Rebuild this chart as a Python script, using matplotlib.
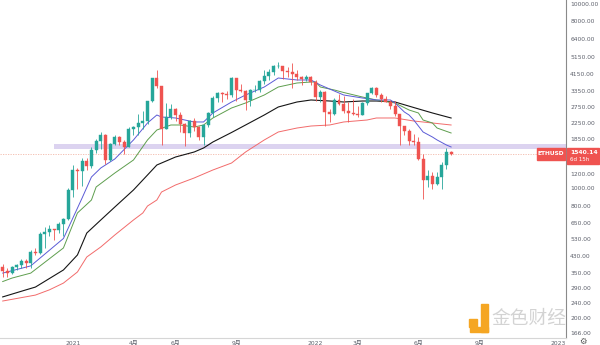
import numpy as np
import pandas as pd
import matplotlib
matplotlib.use("Agg")
import matplotlib.pyplot as plt
from matplotlib.patches import Rectangle

plt.rcParams['font.family'] = ['DejaVu Sans', 'Noto Sans CJK SC']

# ---------------- data (weekly ETHUSD) ----------------
start_week = "2020-09-21"
opens = [379, 360, 352, 379, 388, 408, 400, 456, 451, 571, 585, 608, 600, 647, 688, 988, 1267, 1251, 1416, 1331,
         1625, 1817, 1958, 1435, 1750, 1900, 1790, 1680, 2100, 2170, 2260, 2330, 2980, 3960, 3600, 2120, 2450, 2690,
         2520, 2240, 2000, 2330, 2150, 1900, 2220, 2560, 3100, 3300, 3260, 3230, 3960, 3430, 3370, 3040, 3420, 3450,
         3850, 4080, 4290, 4600, 4640, 4320, 4290, 4200, 4020, 3920, 4050, 3800, 3150, 3330, 2600, 2550, 3030, 2880,
         2630, 2580, 2550, 2520, 2900, 3290, 3520, 3240, 3060, 2970, 2820, 2540, 2180, 2050, 1810, 1790, 1450, 1120,
         1180, 1060, 1160, 1350, 1590]
highs = [392, 375, 382, 395, 420, 418, 470, 478, 582, 620, 635, 610, 665, 700, 1010, 1350, 1300, 1470, 1470, 1690,
         1870, 2040, 1990, 1780, 1960, 1940, 1830, 2150, 2200, 2550, 2650, 3000, 3980, 4380, 3600, 2900, 2890, 2740,
         2600, 2270, 2360, 2410, 2180, 2250, 2620, 3180, 3330, 3340, 3380, 4030, 3980, 3680, 3450, 3470, 3660, 3900,
         4380, 4460, 4660, 4870, 4650, 4550, 4780, 4400, 4100, 4150, 4100, 3880, 3420, 3400, 2720, 3100, 3280, 3200,
         2950, 3050, 2800, 2950, 3300, 3580, 3550, 3300, 3200, 3030, 3000, 2550, 2200, 2100, 1990, 1920, 1550, 1270,
         1240, 1230, 1400, 1670, 1600]
lows = [335, 335, 345, 365, 375, 372, 372, 438, 445, 480, 560, 530, 575, 560, 680, 900, 1000, 1040, 1270, 1300,
        1560, 1640, 1360, 1420, 1720, 1730, 1550, 1680, 1950, 1950, 2100, 2250, 2950, 3500, 1730, 2100, 2400, 2320,
        2040, 1700, 1900, 2050, 1850, 1720, 2170, 2450, 2960, 2950, 3050, 3150, 3000, 3350, 2680, 2800, 3340, 3350,
        3700, 3900, 4150, 4500, 3950, 4050, 3500, 3900, 3650, 3850, 3630, 3000, 2950, 2200, 2300, 2500, 2850, 2570,
        2300, 2500, 2450, 2500, 2850, 3280, 3150, 2950, 2950, 2700, 2480, 1720, 1950, 1720, 1730, 1440, 880, 1030,
        1000, 1050, 1000, 1290, 1525]
closes = [360, 352, 379, 388, 408, 400, 456, 451, 571, 585, 608, 600, 647, 688, 988, 1267, 1251, 1416, 1331, 1625,
          1817, 1958, 1435, 1750, 1900, 1790, 1680, 2100, 2170, 2260, 2330, 2980, 3960, 3600, 2120, 2450, 2690, 2520,
          2240, 2000, 2330, 2150, 1900, 2220, 2560, 3100, 3300, 3260, 3230, 3960, 3430, 3370, 3040, 3420, 3450, 3850,
          4080, 4290, 4600, 4640, 4320, 4290, 4200, 4020, 3920, 4050, 3800, 3150, 3330, 2600, 2550, 3030, 2880, 2630,
          2580, 2550, 2520, 2900, 3290, 3520, 3240, 3060, 2970, 2820, 2540, 2180, 2050, 1810, 1790, 1450, 1120, 1180,
          1060, 1160, 1350, 1590, 1540.14]

# moving averages (week index, value)
ma_blue_w = [0, 6, 13, 17, 19, 21, 24, 28, 31, 33, 34, 37, 39, 41, 43, 45, 49, 52, 56, 59, 63, 66, 68, 70, 73, 77,
             80, 83, 84, 86, 87, 88, 90, 92, 93, 95, 96]
ma_blue_v = [351, 384, 540, 894, 1161, 1299, 1453, 1841, 2274, 2512, 2450, 2420, 2360, 2303, 2303, 2576, 2953, 3222,
             3559, 3981, 3884, 3884, 3649, 3471, 3222, 3104, 3028, 3028, 2917, 2607, 2512, 2360, 2033, 1910, 1841,
             1729, 1687]
ma_green_w = [0, 2, 6, 13, 16, 19, 20, 24, 28, 31, 33, 36, 38, 41, 43, 45, 49, 52, 56, 59, 63, 66, 67, 68, 71, 73,
              77, 80, 84, 87, 89, 90, 92, 93, 96]
ma_green_v = [316, 330, 351, 480, 742, 872, 1025, 1220, 1435, 1841, 2084, 2218, 2218, 2163, 2218, 2420, 2741, 2917,
              3222, 3559, 3741, 3788, 3788, 3559, 3429, 3324, 3143, 3028, 2917, 2673, 2576, 2360, 2274, 2136, 2008]
ma_black_w = [0, 5, 7, 13, 16, 18, 21, 24, 28, 31, 33, 37, 41, 43, 45, 49, 52, 56, 59, 63, 66, 70, 73, 77, 80, 84,
              88, 92, 96]
ma_black_v = [261, 285, 295, 365, 440, 578, 680, 799, 988, 1190, 1348, 1489, 1585, 1666, 1795, 2021, 2218, 2512,
              2775, 2953, 3028, 2990, 2953, 2990, 2990, 2953, 2757, 2576, 2420]
ma_red_w = [0, 7, 10, 13, 16, 18, 21, 24, 28, 30, 31, 33, 34, 37, 41, 45, 49, 52, 56, 59, 63, 66, 70, 73, 78, 80,
            84, 88, 92, 96]
ma_red_v = [248, 267, 285, 310, 356, 429, 486, 564, 680, 742, 809, 872, 963, 1051, 1147, 1267, 1382, 1585, 1841,
            2033, 2136, 2190, 2218, 2303, 2360, 2420, 2420, 2331, 2274, 2218]

zone_start_week = 11
zone_low, zone_high = 1640, 1740
last_price = 1540.14
countdown = "6d 15h"
symbol = "ETHUSD"

price_ticks = [10000, 8000, 6400, 5150, 4150, 3350, 2750, 2250, 1850, 1200, 1000, 800, 650, 530, 430, 350, 290,
               240, 200, 166]
time_labels = ["2021", "4月", "6月", "9月", "2022", "3月", "6月", "9月", "2023"]
time_label_dates = ["2021-01-04", "2021-04-05", "2021-06-07", "2021-09-06", "2022-01-03", "2022-03-07",
                    "2022-06-06", "2022-09-05", "2023-01-02"]

# ---------------- figure ----------------
W, H = 600, 345
fig = plt.figure(figsize=(W / 100, H / 100), dpi=100)
fig.patch.set_facecolor('white')
ax = fig.add_axes([0, 1 - 338 / H, 566 / W, 338 / H])
ax.set_yscale('log')
ax.set_xlim(-0.58, 120.6)
ax.set_ylim(156.5, 10511)
ax.set_facecolor('white')
for s in ['top', 'left']:
    ax.spines[s].set_visible(False)
ax.spines['bottom'].set_color('#d6d6d6')
ax.spines['bottom'].set_linewidth(0.8)
ax.spines['right'].set_color('#8a8a8a')
ax.spines['right'].set_linewidth(0.8)
ax.set_xticks([])
ax.set_yticks([])
ax.minorticks_off()
ax.yaxis.set_minor_locator(matplotlib.ticker.NullLocator())

idx = np.arange(len(closes))
o = np.array(opens, float)
c = np.array(closes, float)
hi = np.array(highs, float)
lo = np.array(lows, float)
up = c >= o
GREEN, RED = '#26a69a', '#ef5350'
cols = np.where(up, GREEN, RED)

# support zone and last price line
ax.fill_between([zone_start_week, 120.6], zone_low, zone_high, color='#dcd3f0', lw=0, zorder=1)
ax.axhline(last_price, color='#f3b8a8', lw=0.6, ls=(0, (1.5, 1.5)), zorder=1)

# moving averages
ax.plot(ma_red_w, ma_red_v, color='#f26b6b', lw=0.7, zorder=2)
ax.plot(ma_black_w, ma_black_v, color='#151515', lw=0.8, zorder=2)
ax.plot(ma_green_w, ma_green_v, color='#5e9e4e', lw=0.7, zorder=2)
ax.plot(ma_blue_w, ma_blue_v, color='#5b5bd6', lw=0.7, zorder=2)

# candles
ax.vlines(idx, lo, hi, colors=cols, lw=0.6, zorder=3)
bottoms = np.minimum(o, c)
heights = np.maximum(np.abs(c - o), bottoms * 0.006)
ax.bar(idx, heights, bottom=bottoms, width=0.64, color=cols, edgecolor=cols, lw=0.3, zorder=4)

# price scale labels
yt = ax.get_yaxis_transform()
for p in price_ticks:
    ax.text(1.0075, p, f"{p:.2f}", transform=yt, ha='left', va='center', fontsize=4.3, color='#5d606b',
            clip_on=False)

# last price boxes
def px2fig(x, y):
    return x / W, 1 - y / H

x0, y0 = px2fig(537, 160)
fig.patches.append(Rectangle((x0, y0), 28 / W, 12 / H, transform=fig.transFigure, color=RED, zorder=5))
fig.text(551 / W, 1 - 154 / H, symbol, ha='center', va='center', fontsize=4.2, color='white', weight='bold',
         zorder=6)
x0, y0 = px2fig(567, 164)
fig.patches.append(Rectangle((x0, y0), 32 / W, 16 / H, transform=fig.transFigure, color=RED, zorder=5))
fig.text(570 / W, 1 - 152.5 / H, f"{last_price:.2f}", ha='left', va='center', fontsize=4.3, color='white',
         weight='bold', zorder=6)
fig.text(570 / W, 1 - 159.5 / H, countdown, ha='left', va='center', fontsize=4.0, color='white', zorder=6)

# time scale labels
start = pd.Timestamp(start_week)
xt = ax.get_xaxis_transform()
for lab, d in zip(time_labels, time_label_dates):
    wi = (pd.Timestamp(d) - start).days / 7
    ax.text(wi, -0.016, lab, transform=xt, ha='center', va='center', fontsize=4.3, color='#5d606b',
            clip_on=False)
fig.text(583 / W, 1 - 341 / H, "\u2699", ha='center', va='center', fontsize=6, color='#555555')

# watermark
fig.patches.append(Rectangle((469 / W, 1 - 327 / H), 8 / W, 8 / H, transform=fig.transFigure,
                             color='#f5a623', zorder=7))
fig.patches.append(Rectangle((481 / W, 1 - 332 / H), 7 / W, 28 / H, transform=fig.transFigure,
                             color='#f5a623', zorder=7))
fig.patches.append(Rectangle((470 / W, 1 - 332 / H), 18 / W, 5 / H, transform=fig.transFigure,
                             color='#f5a623', zorder=7))
fig.text(529 / W, 1 - 318 / H, "金色财经", ha='center', va='center', fontsize=13.5, color='#cfcfcf',
         family=['Noto Sans CJK SC'], zorder=7, alpha=0.9)

fig.savefig('out.png', dpi=100, facecolor='white')
